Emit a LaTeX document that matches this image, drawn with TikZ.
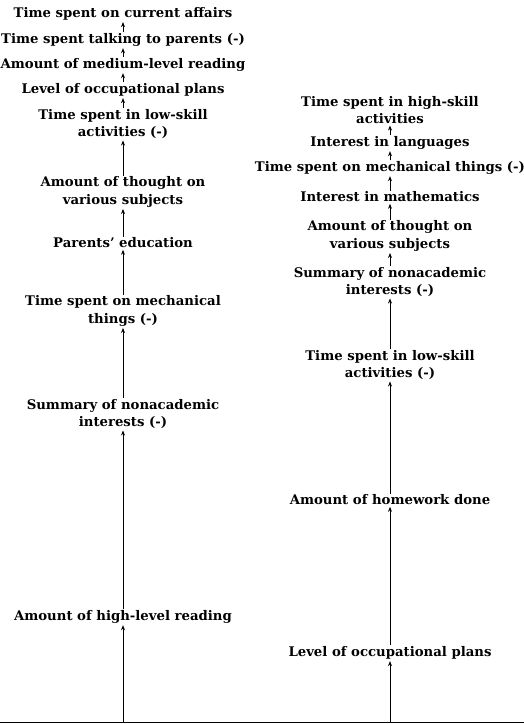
\documentclass[tikz,border=0pt]{standalone}
\usepackage{fontspec}
\setmainfont{DejaVu Serif}
\usetikzlibrary{positioning,arrows.meta}

\tikzset{
  factor/.style={align=center, inner sep=0.5bp,
    font=\bfseries\fontsize{13.3}{17.5}\selectfont},
  link/.style={-{Stealth[length=5bp,width=4bp]}, line width=0.9bp,
    shorten >=1bp, shorten <=0.5bp},
}

\begin{document}
\begin{tikzpicture}[x=1bp, y=-1bp]
    \useasboundingbox (0,0) rectangle (524,724);

    % left chain
    \node[factor] (l1)  at (123,14)  {Time spent on current affairs};
    \node[factor] (l2)  at (123,40)  {Time spent talking to parents (-)};
    \node[factor] (l3)  at (123,65)  {Amount of medium-level reading};
    \node[factor] (l4)  at (123,90)  {Level of occupational plans};
    \node[factor] (l5)  at (123,124) {Time spent in low-skill\\activities (-)};
    \node[factor] (l6)  at (123,192) {Amount of thought on\\various subjects};
    \node[factor] (l7)  at (123,243) {Parents' education};
    \node[factor] (l8)  at (123,311) {Time spent on mechanical\\things (-)};
    \node[factor] (l9)  at (123,414) {Summary of nonacademic\\interests (-)};
    \node[factor] (l10) at (123,617) {Amount of high-level reading};

    % right chain
    \node[factor] (r1) at (390,110) {Time spent in high-skill\\activities};
    \node[factor] (r2) at (390,143) {Interest in languages};
    \node[factor] (r3) at (390,168) {Time spent on mechanical things (-)};
    \node[factor] (r4) at (390,197) {Interest in mathematics};
    \node[factor] (r5) at (390,236) {Amount of thought on\\various subjects};
    \node[factor] (r6) at (390,282) {Summary of nonacademic\\interests (-)};
    \node[factor] (r7) at (390,365) {Time spent in low-skill\\activities (-)};
    \node[factor] (r8) at (390,500) {Amount of homework done};
    \node[factor] (r9) at (390,653) {Level of occupational plans};

    % base line
    \coordinate (base west) at (0,722);
    \coordinate (base east) at (524,722);
    \coordinate (base l) at (123,722);
    \coordinate (base r) at (390,722);
    \draw[line width=0.8bp] (base west) -- (base east);

    \draw[link, shorten <=0pt] (base l) -- (l10);
    \draw[link] (l10) -- (l9);
    \draw[link] (l9) -- (l8);
    \draw[link] (l8) -- (l7);
    \draw[link] (l7) -- (l6);
    \draw[link] (l6) -- (l5);
    \draw[link] (l5) -- (l4);
    \draw[link] (l4) -- (l3);
    \draw[link] (l3) -- (l2);
    \draw[link] (l2) -- (l1);

    \draw[link, shorten <=0pt] (base r) -- (r9);
    \draw[link] (r9) -- (r8);
    \draw[link] (r8) -- (r7);
    \draw[link] (r7) -- (r6);
    \draw[link] (r6) -- (r5);
    \draw[link] (r5) -- (r4);
    \draw[link] (r4) -- (r3);
    \draw[link] (r3) -- (r2);
    \draw[link] (r2) -- (r1);
\end{tikzpicture}
\end{document}
